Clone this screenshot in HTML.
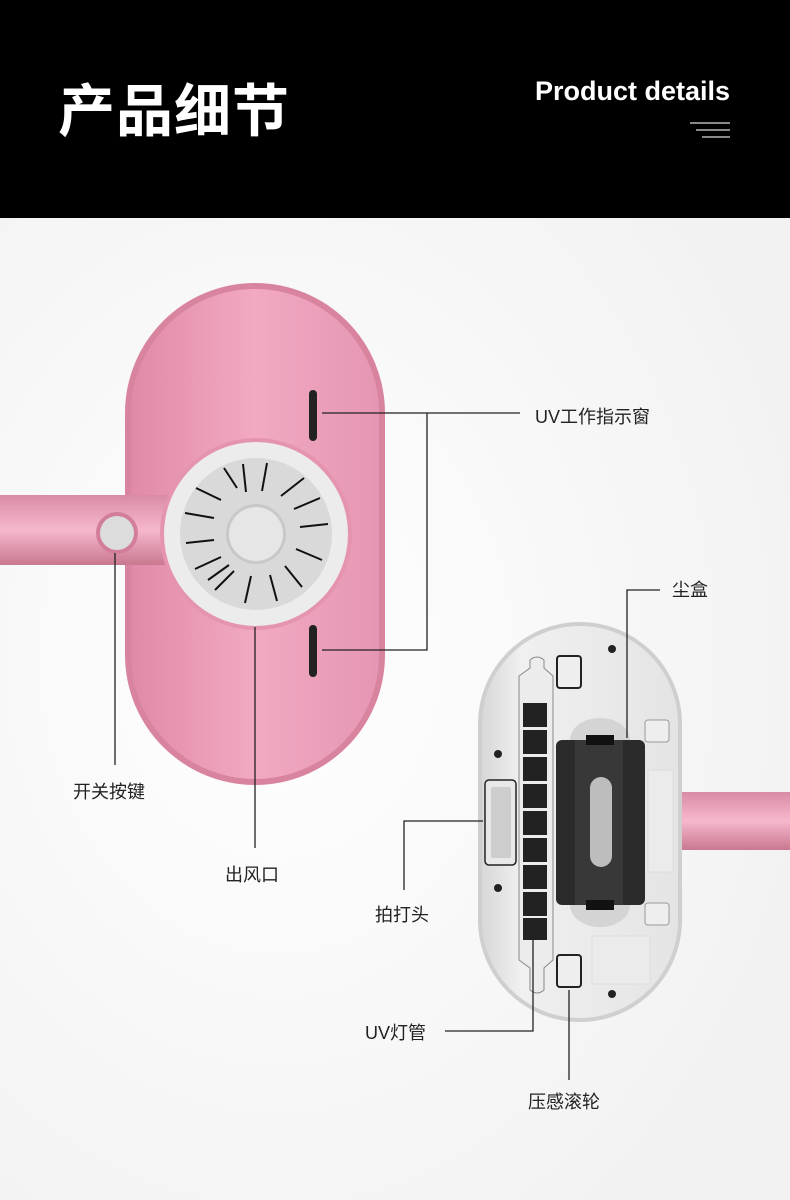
<!DOCTYPE html>
<html><head><meta charset="utf-8"><style>
html,body{margin:0;padding:0;}
body{width:790px;height:1200px;position:relative;overflow:hidden;background:#fff;font-family:"Liberation Sans","Noto Sans CJK SC",sans-serif;}
.hd{position:absolute;left:0;top:0;width:790px;height:218px;background:#000;}
.t1{position:absolute;left:58px;top:66px;color:#fff;font-size:57px;font-weight:bold;letter-spacing:1px;font-family:"Noto Sans CJK SC",sans-serif;}
.t2{position:absolute;right:60px;top:76px;color:#fff;font-size:27px;font-weight:bold;}
.lb{position:absolute;font-size:18px;color:#222;font-family:"Liberation Sans","Noto Sans CJK SC",sans-serif;}
</style></head><body>
<div class="hd"></div>
<div class="t1">产品细节</div>
<div class="t2">Product details</div>
<svg style="position:absolute;left:0;top:0" width="790" height="1200">
<defs>
<radialGradient id="bg" cx="0.35" cy="0.45" r="0.7"><stop offset="0" stop-color="#fff"/><stop offset="1" stop-color="#f2f2f2"/></radialGradient>
<linearGradient id="pk" x1="0" y1="0" x2="1" y2="0"><stop offset="0" stop-color="#e08aa8"/><stop offset="0.5" stop-color="#f2a9c2"/><stop offset="1" stop-color="#e596b3"/></linearGradient>
<linearGradient id="bar" x1="0" y1="0" x2="0" y2="1"><stop offset="0" stop-color="#d98ba6"/><stop offset="0.5" stop-color="#f6b7cd"/><stop offset="1" stop-color="#c9788f"/></linearGradient>
<linearGradient id="gw" x1="0" y1="0" x2="1" y2="0"><stop offset="0" stop-color="#d8d8d8"/><stop offset="0.2" stop-color="#f0f0f0"/><stop offset="1" stop-color="#e4e4e4"/></linearGradient>
</defs>
<rect x="0" y="218" width="790" height="982" fill="url(#bg)"/>
<rect x="690" y="122" width="40" height="2" fill="#888"/>
<rect x="696" y="129" width="34" height="2" fill="#888"/>
<rect x="702" y="136" width="28" height="2" fill="#888"/>
<rect x="125" y="283" width="260" height="502" rx="130" fill="#d9849f"/>
<rect x="131" y="289" width="248" height="490" rx="124" fill="url(#pk)"/>
<rect x="0" y="495" width="170" height="70" fill="url(#bar)"/>
<circle cx="117" cy="533" r="21" fill="#d27e9a"/>
<circle cx="117" cy="533" r="17" fill="#dcdcdc"/>
<circle cx="256" cy="534" r="96" fill="#e594b0"/>
<circle cx="256" cy="534" r="92" fill="#ececec"/>
<circle cx="256" cy="534" r="76" fill="#d9d9d9"/>
<g stroke="#111" stroke-width="2">
<line x1="237" y1="488" x2="224" y2="468"/><line x1="221" y1="500" x2="196" y2="488"/><line x1="214" y1="518" x2="185" y2="513"/>
<line x1="214" y1="540" x2="186" y2="543"/><line x1="221" y1="557" x2="195" y2="569"/><line x1="234" y1="571" x2="215" y2="590"/>
<line x1="251" y1="576" x2="245" y2="603"/><line x1="270" y1="575" x2="277" y2="601"/><line x1="285" y1="566" x2="302" y2="587"/>
<line x1="296" y1="549" x2="322" y2="560"/><line x1="300" y1="527" x2="328" y2="524"/><line x1="294" y1="509" x2="320" y2="498"/>
<line x1="281" y1="496" x2="304" y2="478"/><line x1="262" y1="491" x2="267" y2="463"/>
<line x1="246" y1="492" x2="243" y2="464"/><line x1="229" y1="565" x2="208" y2="580"/>
</g>
<circle cx="256" cy="534" r="30" fill="#c8c8c8"/>
<circle cx="256" cy="534" r="27" fill="#e6e6e6"/>
<rect x="309" y="390" width="8" height="51" rx="4" fill="#222"/>
<rect x="309" y="625" width="8" height="52" rx="4" fill="#222"/>
<rect x="682" y="792" width="108" height="58" fill="url(#bar)"/>
<rect x="478" y="622" width="204" height="400" rx="102" fill="#cfcfcf"/>
<rect x="482" y="626" width="196" height="392" rx="98" fill="url(#gw)"/>
<path d="M519 676 L530 668 L530 660 Q537 654 544 660 L544 668 L553 676 L553 960 L544 968 L544 990 Q537 996 530 990 L530 968 L519 960 Z" fill="#ececec" stroke="#888" stroke-width="1"/>
<g fill="#222">
<rect x="523" y="703" width="24" height="24"/><rect x="523" y="730" width="24" height="24"/><rect x="523" y="757" width="24" height="24"/><rect x="523" y="784" width="24" height="24"/><rect x="523" y="811" width="24" height="24"/><rect x="523" y="838" width="24" height="24"/><rect x="523" y="865" width="24" height="24"/><rect x="523" y="892" width="24" height="24"/><rect x="523" y="918" width="24" height="22"/>
</g>
<rect x="485" y="780" width="31" height="85" rx="4" fill="#e8e8e8" stroke="#222" stroke-width="1.5"/>
<g fill="#bbb"><rect x="491" y="787" width="20" height="71" rx="2" opacity="0.6"/></g>
<circle cx="498" cy="754" r="4" fill="#222"/><circle cx="498" cy="888" r="4" fill="#222"/>
<circle cx="612" cy="649" r="4" fill="#222"/><circle cx="612" cy="994" r="4" fill="#222"/>
<ellipse cx="600" cy="740" rx="30" ry="22" fill="#d4d4d4"/><ellipse cx="600" cy="905" rx="30" ry="22" fill="#d4d4d4"/>
<rect x="556" y="740" width="89" height="165" rx="6" fill="#2b2b2b"/>
<rect x="575" y="740" width="48" height="165" fill="#383838"/>
<rect x="590" y="777" width="22" height="90" rx="11" fill="#bdbdbd"/>
<rect x="586" y="735" width="28" height="10" fill="#111"/><rect x="586" y="900" width="28" height="10" fill="#111"/>
<rect x="557" y="656" width="24" height="32" rx="3" fill="#eee" stroke="#222" stroke-width="2"/>
<rect x="557" y="955" width="24" height="32" rx="3" fill="#eee" stroke="#222" stroke-width="2"/>
<rect x="645" y="720" width="24" height="22" rx="3" fill="#eee" stroke="#999"/>
<rect x="645" y="903" width="24" height="22" rx="3" fill="#eee" stroke="#999"/>
<rect x="648" y="770" width="25" height="102" fill="#ebebeb" stroke="#ddd"/>
<rect x="592" y="936" width="58" height="48" fill="#ebebeb" stroke="#ddd"/>
<g stroke="#222" stroke-width="1.3" fill="none">
<polyline points="322,413 520,413"/>
<polyline points="322,650 427,650 427,413"/>
<line x1="115" y1="553" x2="115" y2="765"/>
<line x1="255" y1="627" x2="255" y2="848"/>
<polyline points="660,590 627,590 627,738"/>
<polyline points="483,821 404,821 404,890"/>
<polyline points="533,935 533,1031 445,1031"/>
<line x1="569" y1="990" x2="569" y2="1080"/>
</g>
</svg>
<div class="lb" style="left:535px;top:403px">UV工作指示窗</div>
<div class="lb" style="left:73px;top:778px">开关按键</div>
<div class="lb" style="left:225px;top:861px">出风口</div>
<div class="lb" style="left:672px;top:576px">尘盒</div>
<div class="lb" style="left:375px;top:901px">拍打头</div>
<div class="lb" style="left:365px;top:1019px">UV灯管</div>
<div class="lb" style="left:528px;top:1088px">压感滚轮</div>
</body></html>
